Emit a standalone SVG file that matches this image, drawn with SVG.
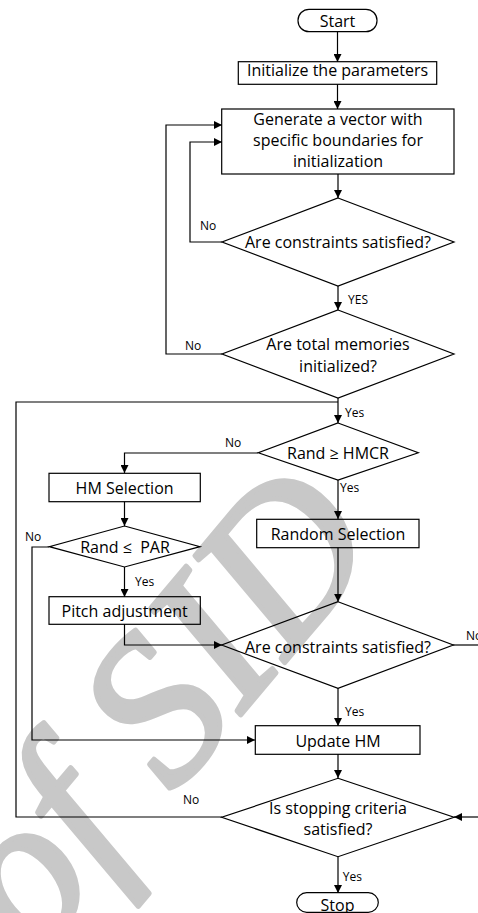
<svg xmlns="http://www.w3.org/2000/svg" width="478" height="913" viewBox="0 0 478 913">
<style>
.shape{fill:none;stroke:#000;stroke-width:1.2}
.t{font-family:"Open Sans","Liberation Sans",sans-serif;font-size:16px;fill:#000;text-anchor:middle}
.s{font-family:"Open Sans","Liberation Sans",sans-serif;font-size:12px;fill:#000}
.c{fill:none;stroke:#000;stroke-width:1.2}
.wm{font-family:"Liberation Serif",serif;font-style:italic;font-size:210px;fill:#c8c8c8;stroke:#c8c8c8;stroke-width:5;stroke-linejoin:round}
</style>
<defs>
<marker id="ah" markerUnits="userSpaceOnUse" markerWidth="8" markerHeight="8" refX="8" refY="4" orient="auto">
<path d="M0,0 L8,4 L0,8 z" fill="#000"/>
</marker>
</defs>
<rect width="478" height="913" fill="#fff"/>
<text class="wm" x="0" y="0" transform="translate(35,960) rotate(-50)">of SID</text>
<g id="connectors">
<path class="c" d="M337.5,31.7 V62" marker-end="url(#ah)"/>
<path class="c" d="M337.5,84.3 V109" marker-end="url(#ah)"/>
<path class="c" d="M338,174 V198" marker-end="url(#ah)"/>
<path class="c" d="M222,242 H190 V142 H222" marker-end="url(#ah)"/>
<path class="c" d="M338,286 V310" marker-end="url(#ah)"/>
<path class="c" d="M222,354 H166 V125 H222" marker-end="url(#ah)"/>
<path class="c" d="M338,398 V423" marker-end="url(#ah)"/>
<path class="c" d="M222,817 H16 V402 H338"/>
<path class="c" d="M258,453 H124.5 V473" marker-end="url(#ah)"/>
<path class="c" d="M338,480 V519" marker-end="url(#ah)"/>
<path class="c" d="M124.5,501.7 V526" marker-end="url(#ah)"/>
<path class="c" d="M49,547 H32 V740 H255" marker-end="url(#ah)"/>
<path class="c" d="M124.5,567 V597" marker-end="url(#ah)"/>
<path class="c" d="M124.5,624 V645 H222" marker-end="url(#ah)"/>
<path class="c" d="M338,547.7 V601.7" marker-end="url(#ah)"/>
<path class="c" d="M453,645 H478"/>
<path class="c" d="M338,688 V726" marker-end="url(#ah)"/>
<path class="c" d="M338,754 V778" marker-end="url(#ah)"/>
<path class="c" d="M478,817 H454" marker-end="url(#ah)"/>
<path class="c" d="M338,857 V893" marker-end="url(#ah)"/>
<text class="s" x="200" y="230">No</text>
<text class="s" x="348" y="304">YES</text>
<text class="s" x="185" y="350">No</text>
<text class="s" x="345" y="417">Yes</text>
<text class="s" x="225" y="446.7">No</text>
<text class="s" x="340" y="491.7">Yes</text>
<text class="s" x="25" y="540.7">No</text>
<text class="s" x="135" y="585.7">Yes</text>
<text class="s" x="466" y="640">No</text>
<text class="s" x="345" y="715.7">Yes</text>
<text class="s" x="183" y="804.3">No</text>
<text class="s" x="342.7" y="881.3">Yes</text>
</g>
<g id="start"><rect class="shape" x="298" y="9.3" width="79" height="22.4" rx="11"/><text class="t" x="337.5" y="26.5">Start</text></g>
<g id="init"><rect class="shape" x="238.3" y="61.7" width="198.4" height="22.6"/><text class="t" x="337.5" y="76">Initialize the parameters</text></g>
<g id="generate"><rect class="shape" x="221.7" y="109" width="232.3" height="65"/><text class="t" x="338" y="125">Generate a vector with</text><text class="t" x="338" y="146">specific boundaries for</text><text class="t" x="338" y="167">initialization</text></g>
<g id="check1"><polygon class="shape" points="338,198 454,242 338,286 222,242"/><text class="t" x="338" y="248">Are constraints satisfied?</text></g>
<g id="memories"><polygon class="shape" points="338,310 454,354 338,398 222,354"/><text class="t" x="338" y="350">Are total memories</text><text class="t" x="338" y="371.5">initialized?</text></g>
<g id="hmcr"><polygon class="shape" points="338,423 418.3,452.7 338,480 258.3,452.7"/><text class="t" x="338" y="459">Rand ≥ HMCR</text></g>
<g id="hmsel"><rect class="shape" x="49" y="473.3" width="151.3" height="28.4"/><text class="t" x="124.6" y="494">HM Selection</text></g>
<g id="randsel"><rect class="shape" x="256.7" y="519.3" width="162.3" height="28.4"/><text class="t" x="338" y="540">Random Selection</text></g>
<g id="par"><polygon class="shape" points="124.5,526 200,546.7 124.5,567 49.3,546.7"/><text class="t" x="125" y="553" xml:space="preserve">Rand ≤  PAR</text></g>
<g id="pitch"><rect class="shape" x="49" y="596.7" width="151.3" height="27.6"/><text class="t" x="124.6" y="616.7">Pitch adjustment</text></g>
<g id="check2"><polygon class="shape" points="338,601.7 453.3,645 338,688.3 221.7,645"/><text class="t" x="338" y="652.5">Are constraints satisfied?</text></g>
<g id="update"><rect class="shape" x="255.3" y="725.7" width="164.7" height="28.6"/><text class="t" x="338" y="747.3">Update HM</text></g>
<g id="stopcheck"><polygon class="shape" points="338,778.3 454,817.3 338,856.7 221.7,817.3"/><text class="t" x="338" y="814">Is stopping criteria</text><text class="t" x="338" y="835">satisfied?</text></g>
<g id="stop"><rect class="shape" x="296.7" y="892.7" width="81.6" height="19.6" rx="10"/><text class="t" x="337.5" y="910.5">Stop</text></g>
</svg>
